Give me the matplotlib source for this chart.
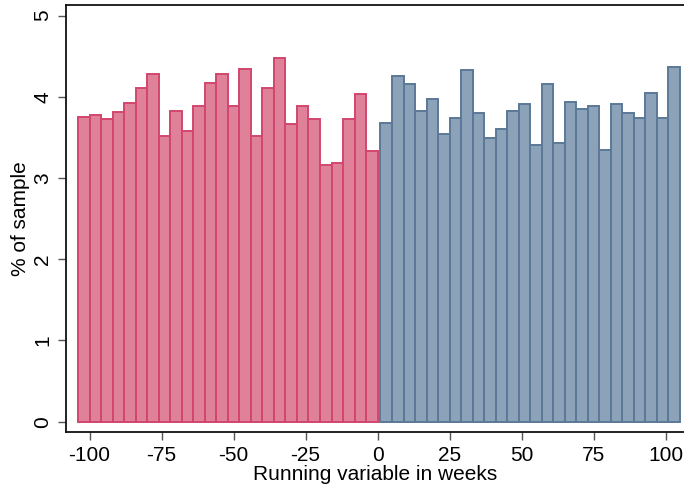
import matplotlib

matplotlib.use("Agg")
import matplotlib.pyplot as plt

# Bin starts (weeks) and share of sample (%) on each side of the cutoff
before_bins = [-104, -100, -96, -92, -88, -84, -80, -76, -72, -68, -64, -60, -56,
               -52, -48, -44, -40, -36, -32, -28, -24, -20, -16, -12, -8, -4]
before_pct = [3.75, 3.78, 3.72, 3.81, 3.92, 4.11, 4.28, 3.52, 3.83, 3.58, 3.89, 4.17, 4.28,
              3.89, 4.34, 3.52, 4.11, 4.48, 3.66, 3.89, 3.72, 3.16, 3.19, 3.72, 4.03, 3.33]

after_bins = [1, 5, 9, 13, 17, 21, 25, 29, 33, 37, 41, 45, 49,
              53, 57, 61, 65, 69, 73, 77, 81, 85, 89, 93, 97, 101]
after_pct = [3.68, 4.25, 4.16, 3.83, 3.97, 3.54, 3.74, 4.33, 3.80, 3.49, 3.60, 3.83, 3.91,
             3.40, 4.16, 3.43, 3.94, 3.85, 3.88, 3.35, 3.91, 3.80, 3.74, 4.05, 3.74, 4.36]

BIN_WIDTH = 4
xticks = [-100, -75, -50, -25, 0, 25, 50, 75, 100]
yticks = [0, 1, 2, 3, 4, 5]

plt.rcParams["font.family"] = ["Liberation Sans", "DejaVu Sans"]
plt.rcParams["axes.unicode_minus"] = False  # plain hyphen like the original

fig = plt.figure(figsize=(6.84, 4.94), dpi=100)
ax = fig.add_axes([0.0965, 0.125, 0.9035, 0.865])

ax.bar(before_bins, before_pct, width=BIN_WIDTH, align="edge",
       color="#e0819a", edgecolor="#d2466c", linewidth=1.4)
ax.bar(after_bins, after_pct, width=BIN_WIDTH, align="edge",
       color="#8ba2b9", edgecolor="#5b7898", linewidth=1.4)

ax.set_xlim(-108.2, 106.4)
ax.set_ylim(-0.13, 5.13)
ax.set_xticks(xticks)
ax.set_yticks(yticks)
ax.tick_params(axis="both", direction="out", length=6, width=1.0, color="#555555",
               labelsize=15, pad=4)
for lab in ax.get_yticklabels():
    lab.set_rotation(90)
    lab.set_va("center")

ax.set_xlabel("Running variable in weeks", fontsize=15, labelpad=0)
ax.set_ylabel("% of sample", fontsize=15, labelpad=2)

for side in ["left", "bottom", "top"]:
    ax.spines[side].set_linewidth(1.3)
    ax.spines[side].set_color("#111111")
ax.spines["right"].set_visible(False)

fig.savefig("out.png", dpi=100)
